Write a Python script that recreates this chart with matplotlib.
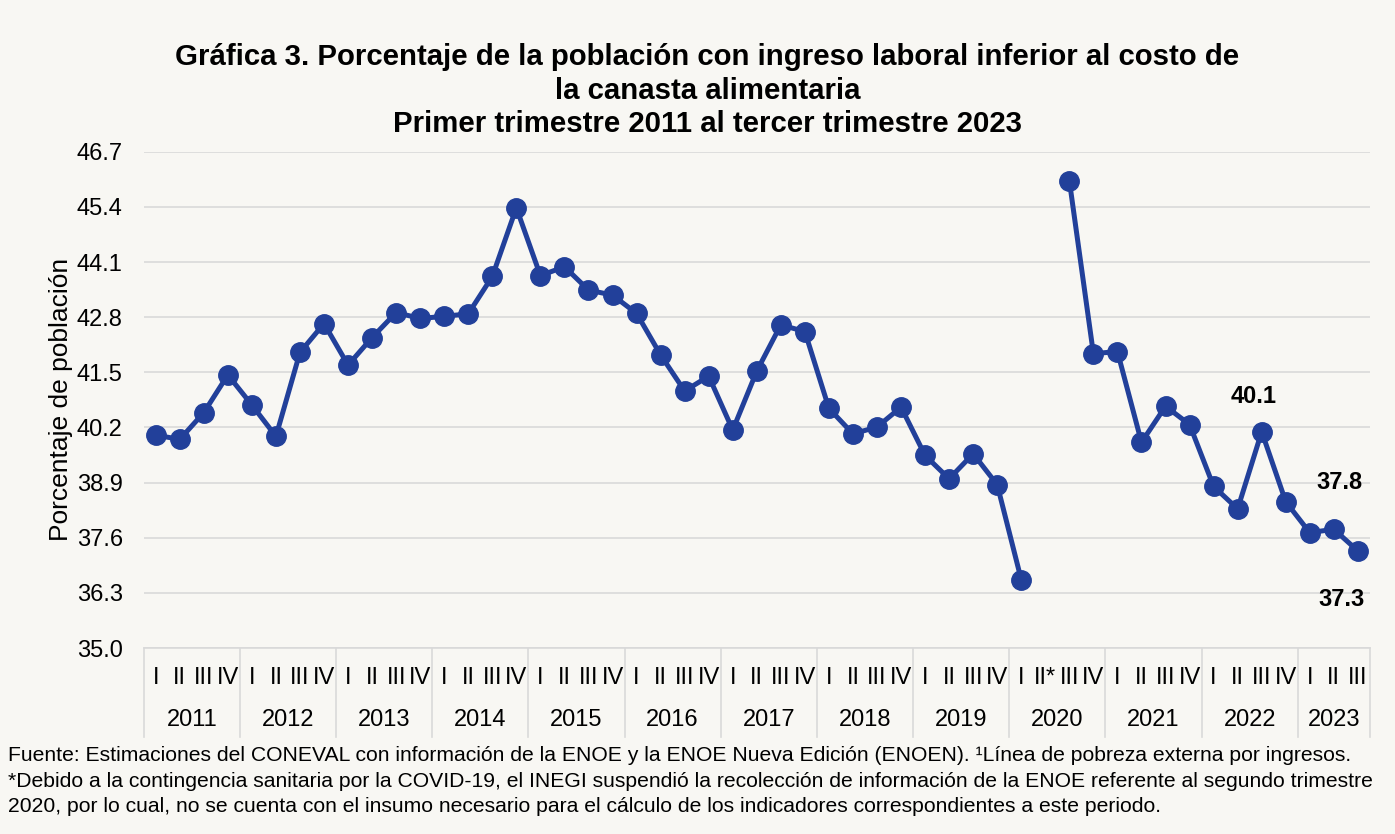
import numpy as np
import matplotlib.pyplot as plt
from matplotlib.transforms import blended_transform_factory

plt.rcParams['font.family'] = ['Liberation Sans', 'DejaVu Sans']

# Datos: porcentaje de la poblacion con ingreso laboral inferior a la canasta
years = ["2011", "2012", "2013", "2014", "2015", "2016", "2017",
         "2018", "2019", "2020", "2021", "2022", "2023"]
quarters_per_year = [4, 4, 4, 4, 4, 4, 4, 4, 4, 4, 4, 4, 3]
quarter_names = ["I", "II", "III", "IV"]
values = [40.02, 39.92, 40.55, 41.44,
          40.73, 39.99, 41.97, 42.65,
          41.67, 42.32, 42.91, 42.77,
          42.82, 42.88, 43.76, 45.38,
          43.78, 43.99, 43.44, 43.32,
          42.89, 41.91, 41.06, 41.41,
          40.14, 41.53, 42.62, 42.46,
          40.65, 40.05, 40.21, 40.68,
          39.54, 38.99, 39.58, 38.85,
          36.61, np.nan, 46.02, 41.94,
          41.99, 39.85, 40.70, 40.27,
          38.81, 38.28, 40.10, 38.45,
          37.72, 37.80, 37.29]
labeled = {46: "40.1", 49: "37.8", 50: "37.3"}
yticks = [35.0, 36.3, 37.6, 38.9, 40.2, 41.5, 42.8, 44.1, 45.4, 46.7]

bg = "#F8F7F3"
blue = "#22409A"
grid_c = "#D9D9D9"

# Etiquetas de trimestre
qlabels = []
for y, n in zip(years, quarters_per_year):
    for q in range(n):
        lab = quarter_names[q]
        if y == "2020" and q == 1:
            lab = "II*"
        qlabels.append(lab)

x = np.arange(len(values)) + 0.5
vals = np.array(values)

fig = plt.figure(figsize=(13.95, 8.34), dpi=100, facecolor=bg)
ax = fig.add_axes([0.103, 0.223, 0.879, 0.595], facecolor=bg)

ax.plot(x, vals, color=blue, lw=3.6, marker="o", ms=14, zorder=3)

# (dx, dy) en puntos para las etiquetas de datos
offsets = {46: (-6, 25), 49: (4, 34), 50: (-12, -35)}
for i, txt in labeled.items():
    ax.annotate(txt, (x[i], vals[i]), xytext=offsets[i], textcoords="offset points",
                ha="center", va="center", fontsize=17, fontweight="bold")

ax.set_xlim(0, len(values))
ax.set_ylim(35.0, 46.7)
ax.set_yticks(yticks)
ax.set_yticklabels([f"{t:.1f}" for t in yticks], fontsize=17)
ax.grid(axis="y", color=grid_c, lw=1.2)
ax.set_axisbelow(True)
ax.tick_params(axis="y", length=0, pad=15)
for s in ["top", "right", "left"]:
    ax.spines[s].set_visible(False)
ax.spines["bottom"].set_color(grid_c)
ax.spines["bottom"].set_linewidth(1.2)

ax.set_xticks(x)
ax.set_xticklabels(qlabels, fontsize=17)
ax.tick_params(axis="x", length=0, pad=14)

ax.set_ylabel("Porcentaje de población", fontsize=19)
ax.yaxis.set_label_coords(-0.058, 0.5)

# Separadores de anos y etiquetas
trans = blended_transform_factory(ax.transData, ax.transAxes)
bounds = np.concatenate([[0], np.cumsum(quarters_per_year)])
for b in bounds:
    ax.plot([b, b], [0, -0.18], transform=trans, color=grid_c, lw=1.2, clip_on=False)
for i, y in enumerate(years):
    ax.text((bounds[i] + bounds[i + 1]) / 2, -0.146, y, transform=trans,
            ha="center", va="center", fontsize=17)

fig.text(0.507, 0.891, "Gráfica 3. Porcentaje de la población con ingreso laboral inferior al costo de\n"
         "la canasta alimentaria\nPrimer trimestre 2011 al tercer trimestre 2023",
         ha="center", va="center", fontsize=21.2, fontweight="bold", linespacing=1.25)

fig.text(0.006, 0.0635, "Fuente: Estimaciones del CONEVAL con información de la ENOE y la ENOE Nueva Edición (ENOEN). ¹Línea de pobreza externa por ingresos.\n"
         "*Debido a la contingencia sanitaria por la COVID-19, el INEGI suspendió la recolección de información de la ENOE referente al segundo trimestre\n"
         "2020, por lo cual, no se cuenta con el insumo necesario para el cálculo de los indicadores correspondientes a este periodo.",
         ha="left", va="center", fontsize=15.2, linespacing=1.45)

fig.savefig("out.png", dpi=100, facecolor=bg)
